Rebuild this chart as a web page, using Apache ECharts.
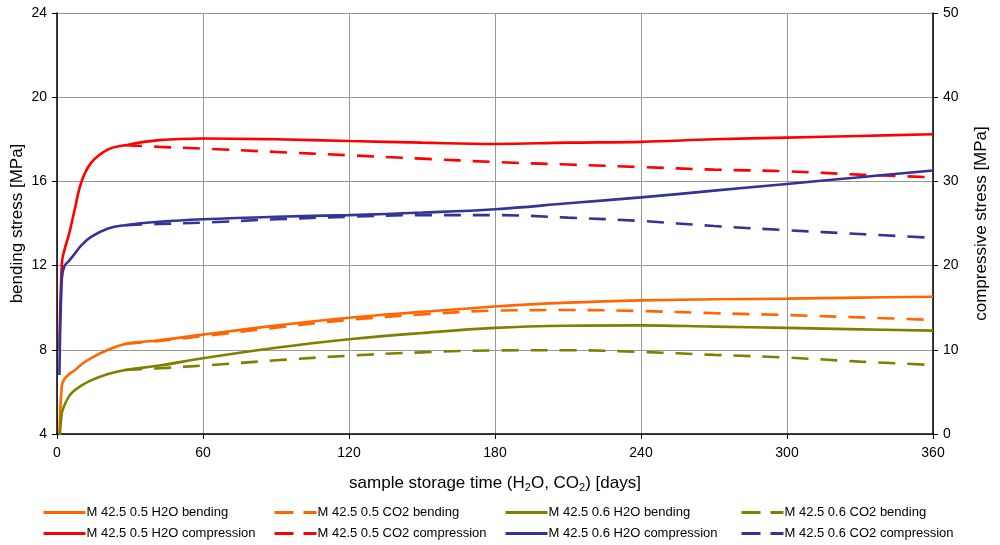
<!DOCTYPE html>
<html>
<head>
<meta charset="utf-8">
<script src="https://cdn.jsdelivr.net/npm/echarts@6/dist/echarts.min.js"></script>
<style>
html,body{margin:0;padding:0;background:#fff;}
#c{width:1000px;height:545px;}
</style>
</head>
<body>
<div id="c"></div>
<script>
// sample storage time [days]
const days = [1, 2, 3, 5, 7, 10, 14, 21, 28, 42, 60, 90, 120, 150, 180, 210, 240, 270, 300, 330, 360];
const xTicks = [0, 60, 120, 180, 240, 300, 360];
const leftTicks = [4, 8, 12, 16, 20, 24];
const rightTicks = [0, 10, 20, 30, 40, 50];

// bending stress [MPa] (left axis)
const bend05H2O = [4.0, 6.3, 6.6, 6.85, 7.0, 7.3, 7.6, 8.0, 8.28, 8.45, 8.72, 9.15, 9.52, 9.8, 10.06, 10.24, 10.35, 10.4, 10.43, 10.48, 10.52];
const bend05CO2 = [null, null, null, null, null, null, null, null, 8.28, 8.42, 8.65, 9.05, 9.42, 9.68, 9.86, 9.89, 9.84, 9.74, 9.65, 9.54, 9.42];
const bend06H2O = [3.6, 5.0, 5.35, 5.8, 6.05, 6.3, 6.55, 6.85, 7.04, 7.25, 7.6, 8.1, 8.5, 8.8, 9.04, 9.14, 9.16, 9.1, 9.04, 8.97, 8.91];
const bend06CO2 = [null, null, null, null, null, null, null, null, 7.04, 7.12, 7.25, 7.5, 7.72, 7.88, 7.97, 7.98, 7.9, 7.76, 7.63, 7.44, 7.28];
// compressive stress [MPa] (right axis)
const comp05H2O = [10.0, 20.3, 21.8, 23.8, 26.3, 29.9, 32.2, 33.8, 34.3, 34.9, 35.1, 35.0, 34.8, 34.6, 34.45, 34.6, 34.7, 35.0, 35.2, 35.4, 35.6];
const comp05CO2 = [null, null, null, null, null, null, null, null, 34.3, 34.1, 33.9, 33.5, 33.1, 32.7, 32.3, 32.0, 31.7, 31.4, 31.2, 30.8, 30.5];
const comp06H2O = [7.0, 18.5, 19.9, 20.6, 21.3, 22.4, 23.4, 24.4, 24.8, 25.2, 25.5, 25.8, 26.0, 26.3, 26.7, 27.4, 28.1, 28.9, 29.7, 30.5, 31.3];
const comp06CO2 = [null, null, null, null, null, null, null, null, 24.8, 24.95, 25.1, 25.5, 25.8, 26.0, 26.0, 25.7, 25.3, 24.7, 24.2, 23.75, 23.3];

const seriesNames = [
  'M 42.5 0.5 H2O bending', 'M 42.5 0.5 CO2 bending', 'M 42.5 0.6 H2O bending', 'M 42.5 0.6 CO2 bending',
  'M 42.5 0.5 H2O compression', 'M 42.5 0.5 CO2 compression', 'M 42.5 0.6 H2O compression', 'M 42.5 0.6 CO2 compression'
];
const seriesValues = [bend05H2O, bend05CO2, bend06H2O, bend06CO2, comp05H2O, comp05CO2, comp06H2O, comp06CO2];
const seriesColors = ['#FF6600', '#FF6600', '#808000', '#808000', '#FF0000', '#FF0000', '#333399', '#333399'];
const seriesAxis = [0, 0, 0, 0, 1, 1, 1, 1];
const seriesDashed = [false, true, false, true, false, true, false, true];

const FONT = "'Liberation Sans', Arial, sans-serif";

const series = seriesNames.map((name, i) => ({
  name: name,
  type: 'line',
  yAxisIndex: seriesAxis[i],
  data: days.map((d, j) => [d, seriesValues[i][j]]),
  showSymbol: false,
  symbol: 'none',
  smooth: 0.4,
  connectNulls: false,
  clip: true,
  lineStyle: { color: seriesColors[i], width: 2.6, type: seriesDashed[i] ? [17, 12] : 'solid' },
  itemStyle: { color: seriesColors[i] },
  z: 2 + i
}));

const legendLefts = [42, 273, 504, 740];
const legendTops = [506, 527];
const legends = seriesNames.map((name, i) => ({
  data: [name],
  left: legendLefts[i % 4],
  top: legendTops[Math.floor(i / 4)],
  padding: 0,
  orient: 'horizontal',
  itemWidth: 42,
  itemHeight: 14,
  itemGap: 0,
  selectedMode: false,
  itemStyle: { opacity: 0, color: 'rgba(0,0,0,0)', borderWidth: 0 },
  textStyle: { fontFamily: FONT, fontSize: 13, color: '#000', padding: [0, 0, 0, -4] },
  lineStyle: seriesDashed[i] ? { type: [19, 10], width: 3, color: seriesColors[i] } : { width: 3, color: seriesColors[i] }
}));

const chart = echarts.init(document.getElementById('c'), null, { renderer: 'canvas' });
chart.setOption({
  animation: false,
  backgroundColor: '#fff',
  grid: { left: 57, right: 67, top: 13, bottom: 111, containLabel: false, outerBoundsMode: 'none' },
  legend: legends,
  xAxis: {
    type: 'value',
    min: xTicks[0],
    max: xTicks[xTicks.length - 1],
    interval: xTicks[1] - xTicks[0],
    name: '{t|sample storage time (H}{s|2}{t|O, CO}{s|2}{t|) [days]}',
    nameLocation: 'middle',
    nameGap: 37,
    nameMoveOverlap: false,
    nameTextStyle: {
      rich: {
        t: { fontFamily: FONT, fontSize: 17, color: '#000', lineHeight: 21, verticalAlign: 'bottom' },
        s: { fontFamily: FONT, fontSize: 11, color: '#000', lineHeight: 21, verticalAlign: 'bottom', padding: [0, 0, -1, 0] }
      }
    },
    axisLine: { onZero: false, lineStyle: { color: '#000', width: 1.5 } },
    axisTick: { show: true, length: 5, inside: false, lineStyle: { color: '#000' } },
    axisLabel: { fontFamily: FONT, fontSize: 14, color: '#000', margin: 12 },
    splitLine: { show: true, lineStyle: { color: '#999', width: 1 } }
  },
  yAxis: [
    {
      type: 'value',
      position: 'left',
      min: leftTicks[0],
      max: leftTicks[leftTicks.length - 1],
      interval: leftTicks[1] - leftTicks[0],
      name: 'bending stress [MPa]',
      nameLocation: 'middle',
      nameGap: 31,
      nameMoveOverlap: false,
      nameTextStyle: { fontFamily: FONT, fontSize: 17, color: '#000' },
      axisLine: { show: true, lineStyle: { color: '#000', width: 1.5 } },
      axisTick: { show: true, length: 5, lineStyle: { color: '#000' } },
      axisLabel: { fontFamily: FONT, fontSize: 14, color: '#000', margin: 10 },
      splitLine: { show: true, lineStyle: { color: '#999', width: 1 } }
    },
    {
      type: 'value',
      position: 'right',
      min: rightTicks[0],
      max: rightTicks[rightTicks.length - 1],
      interval: rightTicks[1] - rightTicks[0],
      name: 'compressive stress [MPa]',
      nameLocation: 'middle',
      nameGap: 40,
      nameMoveOverlap: false,
      nameTextStyle: { fontFamily: FONT, fontSize: 17, color: '#000' },
      axisLine: { show: true, lineStyle: { color: '#000', width: 1.5 } },
      axisTick: { show: true, length: 5, lineStyle: { color: '#000' } },
      axisLabel: { fontFamily: FONT, fontSize: 14, color: '#000', margin: 10 },
      splitLine: { show: false }
    }
  ],
  series: series
});
</script>
</body>
</html>
